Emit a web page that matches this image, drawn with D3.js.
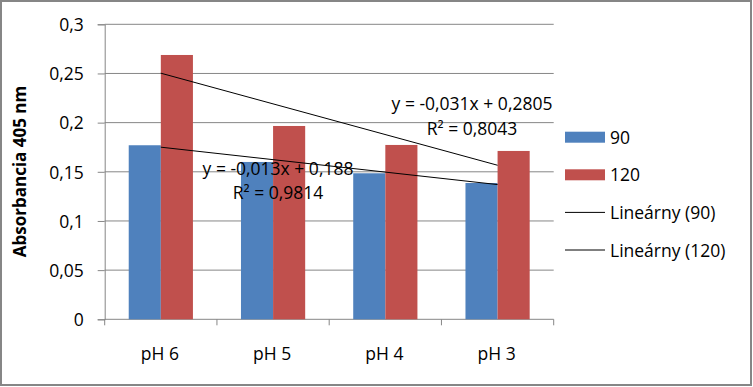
<!DOCTYPE html>
<html><head><meta charset="utf-8">
<script src="https://cdn.jsdelivr.net/npm/d3@7"></script>
<style>body{margin:0;background:#fff}svg{display:block}text{font-family:"Open Sans",sans-serif;fill:#000}</style>
</head><body><svg id="c" width="753" height="387"></svg>
<script>
const categories = ["pH 6", "pH 5", "pH 4", "pH 3"];
const series90 = [0.177, 0.160, 0.1485, 0.1386];
const series120 = [0.2688, 0.1966, 0.1773, 0.1712];
const seriesNames = ["90", "120"];
const trendNames = ["Lineárny (90)", "Lineárny (120)"];
const trendLabels90 = ["y = -0,013x + 0,188", "R² = 0,9814"];
const trendLabels120 = ["y = -0,031x + 0,2805", "R² = 0,8043"];
const yTicks = [0, 0.05, 0.1, 0.15, 0.2, 0.25, 0.3];
const yTitle = "Absorbancia 405 nm";
const colors = ["#4F81BD", "#C0504D"];

const FS = "17.5px";
const svg = d3.select("#c");
const L = 104.7, R = 553.7, T = 24.3, B = 319.3;
const x = d3.scaleBand().domain(categories).range([L, R]).paddingInner(0.428).paddingOuter(0.214);
const xc = d3.scaleBand().domain(categories).range([L, R]);
const y = d3.scaleLinear().domain([0, 0.3]).range([B, T]);
const fmt = v => String(+v.toFixed(2)).replace(".", ",");

svg.append("rect").attr("x", 1).attr("y", 1).attr("width", 750).attr("height", 384)
  .attr("fill", "#fff").attr("stroke", "#868686").attr("stroke-width", 2);

// gridlines
svg.append("g").selectAll("line").data(yTicks.filter(d => d > 0)).join("line")
  .attr("x1", L).attr("x2", R).attr("y1", d => y(d)).attr("y2", d => y(d))
  .attr("stroke", "#868686").attr("stroke-width", 1);

// y axis
const ya = svg.append("g").attr("transform", `translate(${L},0)`)
  .call(d3.axisLeft(y).tickValues(yTicks).tickFormat(fmt).tickSize(7).tickPadding(14));
ya.selectAll("path,line").attr("stroke", "#868686");
ya.selectAll("text").style("font-size", FS).style("font-family", "'Open Sans', sans-serif").attr("dy", "0.36em");

// x axis
svg.append("line").attr("x1", L).attr("x2", R).attr("y1", B).attr("y2", B).attr("stroke", "#868686");
const bounds = categories.map(c => xc(c)).concat([R]);
svg.append("g").selectAll("line").data(bounds).join("line")
  .attr("x1", d => d).attr("x2", d => d).attr("y1", B).attr("y2", B + 6).attr("stroke", "#868686");
svg.append("g").selectAll("text").data(categories).join("text")
  .attr("x", d => xc(d) + xc.bandwidth() / 2 - 1).attr("y", 360)
  .attr("text-anchor", "middle").style("font-size", FS).text(d => d);

// bars
const bw = x.bandwidth() / 2;
[series90, series120].forEach((s, si) => {
  svg.append("g").selectAll("rect").data(s).join("rect")
    .attr("x", (d, i) => x(categories[i]) + si * bw)
    .attr("width", bw)
    .attr("y", d => y(d)).attr("height", d => B - y(d))
    .attr("fill", colors[si]);
});

// trendlines (least squares on x = 1..n)
function fit(s) {
  const xs = s.map((d, i) => i + 1);
  const mx = d3.mean(xs), my = d3.mean(s);
  const b = d3.sum(xs, (v, i) => (v - mx) * (s[i] - my)) / d3.sum(xs, v => (v - mx) ** 2);
  return { b, a: my - b * mx };
}
const cx = i => xc(categories[i]) + xc.bandwidth() / 2;
[series90, series120].forEach(s => {
  const f = fit(s), n = s.length;
  svg.append("line").attr("x1", cx(0)).attr("y1", y(f.a + f.b))
    .attr("x2", cx(n - 1)).attr("y2", y(f.a + f.b * n))
    .attr("stroke", "#000").attr("stroke-width", 1);
});

// trend labels
function lab(lines, cxp, y0, gap) {
  svg.append("g").selectAll("text").data(lines).join("text")
    .attr("x", cxp).attr("y", (d, i) => y0 + i * gap).attr("text-anchor", "middle")
    .style("font-size", FS).text(d => d);
}
lab(trendLabels120, 472, 110, 24.5);
lab(trendLabels90, 278, 175, 24);

// legend
const lg = svg.append("g");
const lx = 565, ly0 = 137.2, ls = 37.6;
seriesNames.forEach((n, i) => {
  lg.append("rect").attr("x", lx).attr("y", ly0 + i * ls - 5.5).attr("width", 40).attr("height", 11).attr("fill", colors[i]);
  lg.append("text").attr("x", lx + 45).attr("y", ly0 + i * ls + 6.5).style("font-size", FS).text(n);
});
trendNames.forEach((n, j) => {
  const i = j + 2;
  lg.append("line").attr("x1", lx).attr("x2", lx + 40).attr("y1", ly0 + i * ls).attr("y2", ly0 + i * ls).attr("stroke", "#000");
  lg.append("text").attr("x", lx + 45).attr("y", ly0 + i * ls + 6.5).style("font-size", FS).text(n);
});

// y title
svg.append("text").attr("transform", `translate(25.5,171.5) rotate(-90)`)
  .attr("text-anchor", "middle").style("font-size", "17px").style("font-weight", "bold").text(yTitle);
</script></body></html>
